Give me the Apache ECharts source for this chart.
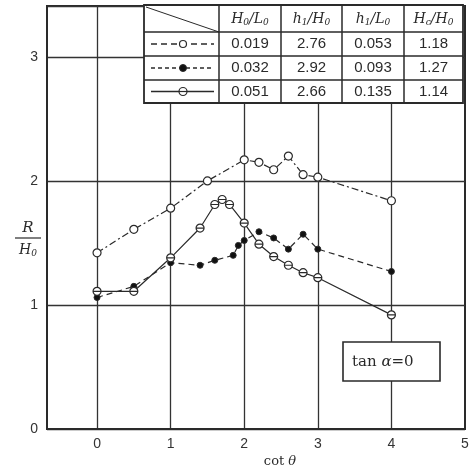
<!DOCTYPE html>
<html><head><meta charset="utf-8">
<script src="https://cdn.jsdelivr.net/npm/echarts@6/dist/echarts.min.js"></script>
<style>html,body{margin:0;padding:0;background:#fff}#c{width:475px;height:470px}</style>
</head><body><div id="c"></div>
<script>
const xTicks = [0, 1, 2, 3, 4, 5];
const xGrid = [0, 1, 2, 3, 4];
const s1x = [0, 0.5, 1, 1.5, 2, 2.2, 2.4, 2.6, 2.8, 3, 4];
const s1y = [1.42, 1.61, 1.78, 2.00, 2.17, 2.15, 2.09, 2.20, 2.05, 2.03, 1.84];
const s2x = [0, 0.5, 1, 1.4, 1.6, 1.85, 1.92, 2, 2.2, 2.4, 2.6, 2.8, 3, 4];
const s2y = [1.06, 1.15, 1.34, 1.32, 1.36, 1.40, 1.48, 1.52, 1.59, 1.54, 1.45, 1.57, 1.45, 1.27];
const s3x = [0, 0.5, 1, 1.4, 1.6, 1.7, 1.8, 2, 2.2, 2.4, 2.6, 2.8, 3, 4];
const s3y = [1.11, 1.11, 1.38, 1.62, 1.81, 1.85, 1.81, 1.66, 1.49, 1.39, 1.32, 1.26, 1.22, 0.92];
const H0L0 = ['0.019', '0.032', '0.051'];
const h1H0 = ['2.76', '2.92', '2.66'];
const h1L0 = ['0.053', '0.093', '0.135'];
const HcH0 = ['1.18', '1.27', '1.14'];

const INK = '#2a2a2a';
const serif = '"DejaVu Serif", "Liberation Serif", serif';
const sans = '"Liberation Sans", Arial, sans-serif';
const sym3 = 'path://M10,5A5,5,0,1,1,0,5A5,5,0,1,1,10,5ZM0,5L10,5';

const zip = (xs, ys) => xs.map((x, i) => [x, ys[i]]);

// table layout
const cols = [144, 219, 281, 342, 404, 463];
const rows = [5, 32, 56, 80, 103];
const g = [];
g.push({type: 'rect', shape: {x: cols[0], y: rows[0], width: cols[5] - cols[0], height: rows[4] - rows[0]},
  style: {fill: '#fff', stroke: INK, lineWidth: 1.8}, z: 100});
for (let i = 1; i < 5; i++) g.push({type: 'line', shape: {x1: cols[i], y1: rows[0], x2: cols[i], y2: rows[4]}, style: {stroke: INK, lineWidth: 1.5}, z: 101});
for (let j = 1; j < 4; j++) g.push({type: 'line', shape: {x1: cols[0], y1: rows[j], x2: cols[5], y2: rows[j]}, style: {stroke: INK, lineWidth: 1.5}, z: 101});
g.push({type: 'line', shape: {x1: cols[0] + 2, y1: rows[0] + 2, x2: cols[1], y2: rows[1]}, style: {stroke: INK, lineWidth: 1}, z: 101});

const rich = {
  i: {fontFamily: serif, fontStyle: 'italic', fontSize: 14, fill: INK},
  s: {fontFamily: serif, fontStyle: 'italic', fontSize: 9, fill: INK, padding: [7, 0, 0, 0]}
};
const headers = ['{i|H}{s|0}{i|/L}{s|0}', '{i|h}{s|1}{i|/H}{s|0}', '{i|h}{s|1}{i|/L}{s|0}', '{i|H}{s|c}{i|/H}{s|0}'];
headers.forEach((h, k) => {
  g.push({type: 'text', x: (cols[k + 1] + cols[k + 2]) / 2, y: (rows[0] + rows[1]) / 2 + 1,
    style: {text: h, rich: rich, align: 'center', verticalAlign: 'middle'}, z: 102});
});
const colsData = [H0L0, h1H0, h1L0, HcH0];
for (let r = 0; r < 3; r++) {
  colsData.forEach((arr, k) => {
    g.push({type: 'text', x: (cols[k + 1] + cols[k + 2]) / 2, y: (rows[r + 1] + rows[r + 2]) / 2,
      style: {text: arr[r], font: '15px ' + sans, fill: INK, align: 'center', verticalAlign: 'middle'}, z: 102});
  });
}
// legend samples
const ly = rows.slice(1, 4).map((v, i) => (v + rows[i + 2]) / 2);
const dashes = [[6, 4], [4, 3], null];
ly.forEach((y, i) => {
  g.push({type: 'line', shape: {x1: 151, y1: y, x2: 214, y2: y},
    style: {stroke: INK, lineWidth: 1.3, lineDash: dashes[i]}, z: 102});
});
g.push({type: 'circle', shape: {cx: 183, cy: ly[0], r: 3.5}, style: {fill: '#fff', stroke: INK, lineWidth: 1.2}, z: 103});
g.push({type: 'circle', shape: {cx: 183, cy: ly[1], r: 3.5}, style: {fill: '#111', stroke: INK, lineWidth: 1}, z: 103});
g.push({type: 'circle', shape: {cx: 183, cy: ly[2], r: 4}, style: {fill: '#fff', stroke: INK, lineWidth: 1.2}, z: 103});
g.push({type: 'line', shape: {x1: 179, y1: ly[2], x2: 187, y2: ly[2]}, style: {stroke: INK, lineWidth: 1.2}, z: 104});

// inset box
g.push({type: 'rect', shape: {x: 343, y: 342, width: 97, height: 39}, style: {fill: '#fff', stroke: INK, lineWidth: 1.6}, z: 100});
g.push({type: 'text', x: 352, y: 362, style: {text: '{n|tan }{i|α}{n|=0}', verticalAlign: 'middle',
  rich: {n: {fontFamily: serif, fontSize: 15, fill: INK}, i: {fontFamily: serif, fontStyle: 'italic', fontSize: 15, fill: INK}}}, z: 101});

// y label fraction
g.push({type: 'text', x: 28, y: 228, style: {text: 'R', font: 'italic 15px ' + serif, fill: INK, align: 'center', verticalAlign: 'middle'}});
g.push({type: 'line', shape: {x1: 15, y1: 238, x2: 41, y2: 238}, style: {stroke: INK, lineWidth: 1.2}});
g.push({type: 'text', x: 28, y: 250, style: {text: '{i|H}{s|0}', align: 'center', verticalAlign: 'middle', rich: rich}});
// x axis name
g.push({type: 'text', x: 280, y: 462, style: {text: '{n|cot }{i|θ}', align: 'center', verticalAlign: 'middle',
  rich: {n: {fontFamily: serif, fontSize: 13, fill: INK}, i: {fontFamily: serif, fontStyle: 'italic', fontSize: 13, fill: INK}}}});

const chart = echarts.init(document.getElementById('c'));
chart.setOption({
  animation: false,
  backgroundColor: '#fff',
  grid: {left: 47, right: 10, top: 6, bottom: 41, show: true, borderColor: INK, borderWidth: 2},
  xAxis: {
    type: 'value', min: -0.68, max: 5,
    axisLine: {show: true, onZero: false, lineStyle: {color: INK, width: 2}},
    axisTick: {show: false, customValues: xGrid},
    axisLabel: {customValues: xTicks, color: '#333', fontFamily: sans, fontSize: 14, margin: 8},
    splitLine: {show: true, lineStyle: {color: '#333', width: 1.3}}
  },
  yAxis: {
    type: 'value', min: 0, max: 3.41, interval: 1,
    axisLine: {show: true, onZero: false, lineStyle: {color: INK, width: 2}},
    axisTick: {show: false},
    axisLabel: {color: '#333', fontFamily: sans, fontSize: 14, margin: 9, showMaxLabel: false},
    splitLine: {show: true, lineStyle: {color: '#333', width: 1.3}}
  },
  graphic: g,
  series: [
    {type: 'line', data: zip(s1x, s1y), symbol: 'circle', symbolSize: 8, z: 5,
      lineStyle: {color: INK, width: 1.2, type: [7, 3, 2, 3]},
      itemStyle: {color: '#fff', borderColor: INK, borderWidth: 1.2}},
    {type: 'line', data: zip(s2x, s2y), symbol: 'circle', symbolSize: 6, z: 5,
      lineStyle: {color: INK, width: 1.2, type: [6, 4]},
      itemStyle: {color: '#111', borderColor: INK, borderWidth: 1}},
    {type: 'line', data: zip(s3x, s3y), symbol: sym3, symbolSize: 8, z: 5,
      lineStyle: {color: INK, width: 1.2},
      itemStyle: {color: '#fff', borderColor: INK, borderWidth: 1.2}}
  ]
});
</script>
</body></html>
